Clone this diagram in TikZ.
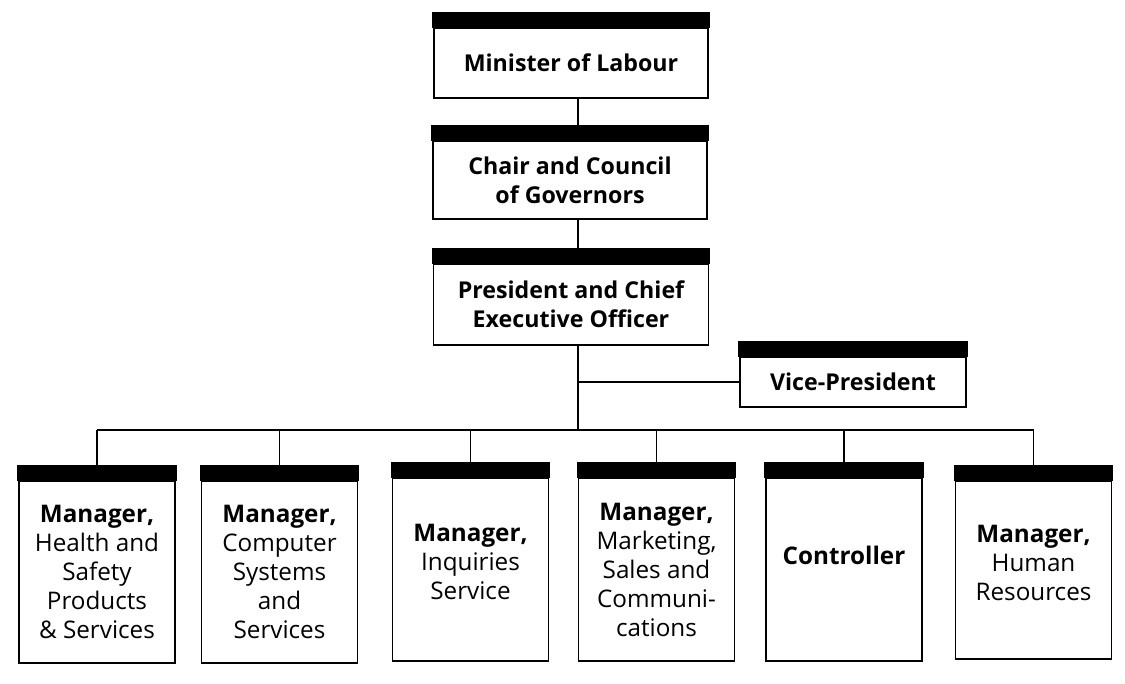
\documentclass[tikz,border=0pt]{standalone}
\usepackage{fontspec}
\setmainfont{Open Sans}
\begin{document}
\begin{tikzpicture}[
  x=1cm,
  y=1cm,
  font=\fontsize{13.8}{16.5}\selectfont,
  office/.style={
    rectangle,
    draw=black,
    fill=white,
    line width=1.1pt,
    align=center,
    inner sep=2pt,
    append after command={\pgfextra{
      \filldraw[line width=1.1pt]
        (\tikzlastnode.north west) rectangle ([yshift=0.28cm]\tikzlastnode.north east);}}
  },
  topoffice/.style={office, minimum width=5.48cm, font=\fontsize{13.2}{16.5}\selectfont\bfseries},
  unit/.style={office, minimum width=3.12cm, minimum height=3.64cm},
  link/.style={draw=black, line width=1.1pt}
]

\useasboundingbox (0,0) rectangle (22.5,13.66);

\node[topoffice, minimum height=1.40cm] (minister) at (11.42,12.40) {Minister of Labour};
\node[topoffice, minimum height=1.56cm] (chair) at (11.40,10.06) {Chair and Council\\ of Governors};
\node[topoffice, minimum height=1.62cm, minimum width=5.50cm] (pres) at (11.42,7.57)
  {President and Chief\\ Executive Officer};
\node[topoffice, minimum height=1.00cm, minimum width=4.52cm] (vp) at (17.06,6.02) {Vice-President};

\coordinate (trunk) at (11.56,5.06);

\node[unit] (m1) at (1.94,2.22) {\textbf{Manager,}\\ Health and\\ Safety\\ Products\\ \& Services};
\node[unit] (m2) at (5.59,2.22) {\textbf{Manager,}\\ Computer\\ Systems\\ and\\ Services};
\node[unit, minimum height=3.66cm] (m3) at (9.41,2.27)
  {\textbf{Manager,}\\ Inquiries\\ Service\\[-0.28cm] \mbox{}};
\node[unit, minimum height=3.66cm] (m4) at (13.13,2.27)
  {\textbf{Manager,}\\ Marketing,\\ Sales and\\ Communi-\\ cations};
\node[unit, minimum height=3.66cm] (m5) at (16.88,2.27) {\textbf{Controller}\\ \mbox{}};
\node[unit, minimum height=3.56cm] (m6) at (20.67,2.26)
  {\textbf{Manager,}\\ Human\\ Resources\\[-0.28cm] \mbox{}};

\draw[link] (minister.south -| trunk) -- (chair.north -| trunk);
\draw[link] (chair.south -| trunk) -- (pres.north -| trunk);
\draw[link] (pres.south -| trunk) -- (trunk);
\draw[link] (vp.west) -- (vp.west -| trunk);

\draw[link] (m1.north |- trunk) -- (m6.north |- trunk);
\foreach \n in {m1,m2,m3,m4,m5,m6}
  \draw[link] (\n.north) -- (\n.north |- trunk);

\end{tikzpicture}
\end{document}
